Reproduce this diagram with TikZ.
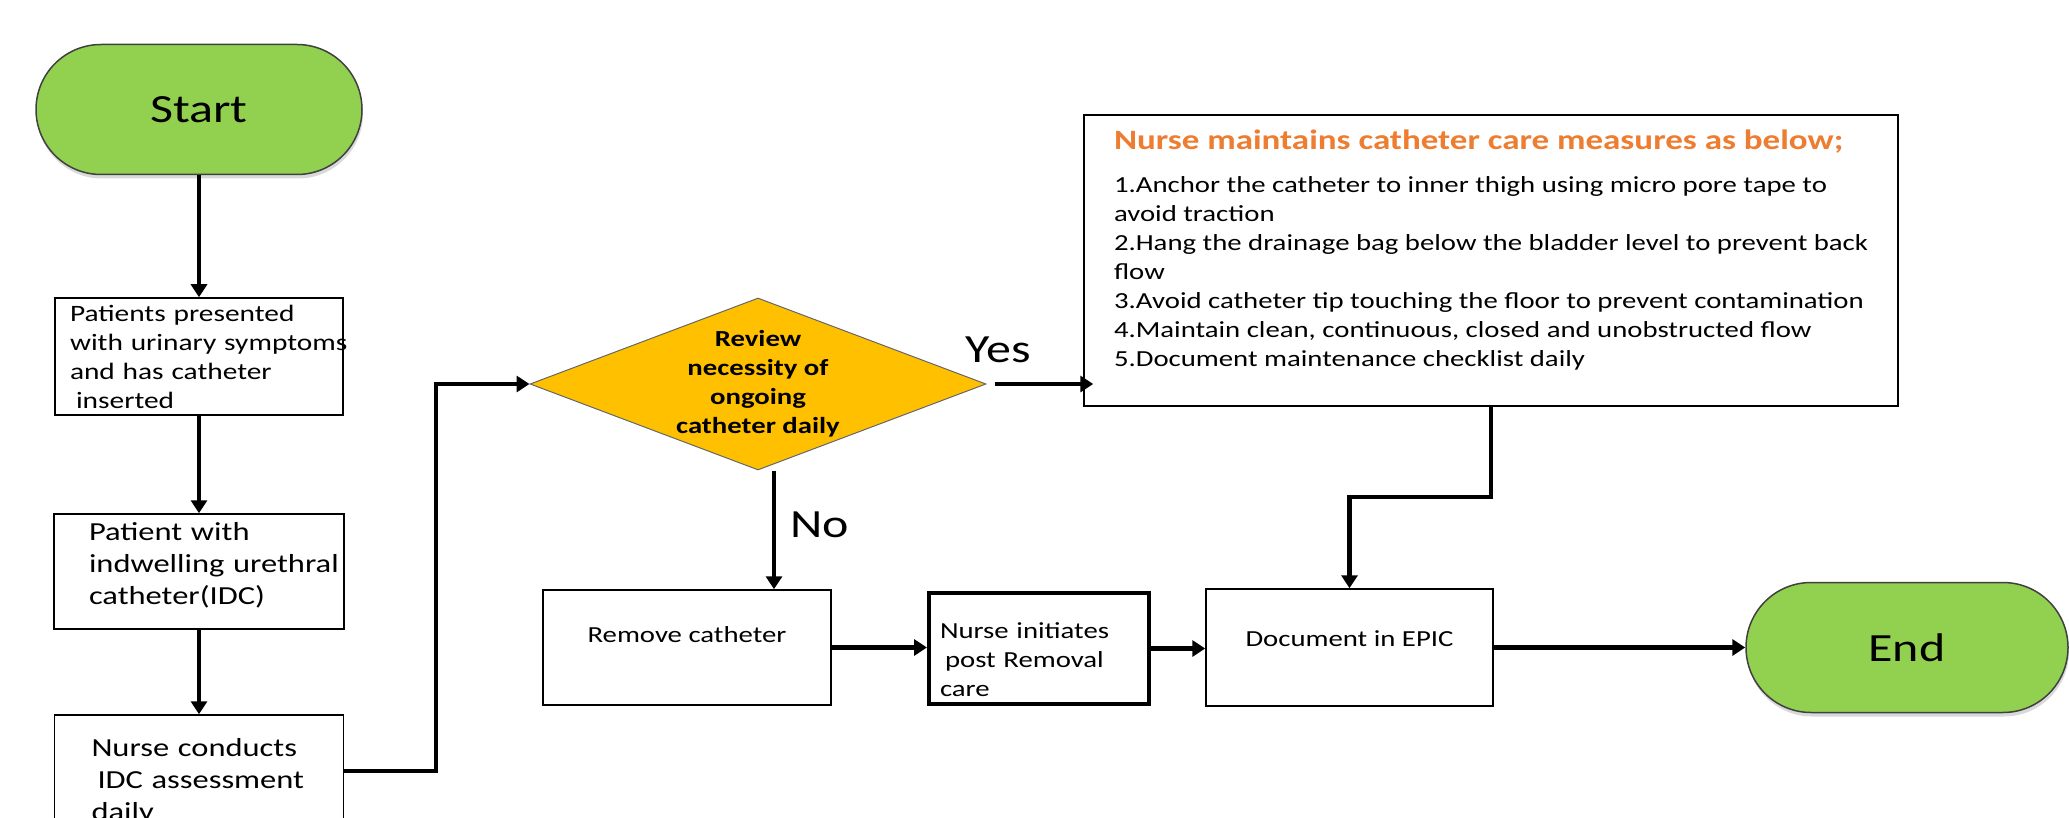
\documentclass[tikz,border=0pt]{standalone}
\usepackage{fontspec}
\setmainfont{Carlito}[FakeStretch=1.25]
\usepackage{xcolor}
\usetikzlibrary{shapes.geometric,arrows.meta,shadows}

\definecolor{pillgreen}{HTML}{92D050}
\definecolor{reviewgold}{HTML}{FFC000}
\definecolor{headorange}{HTML}{ED7D31}
\newcommand{\fsz}[2]{\fontsize{#1}{#2}\selectfont}
\newcommand{\upstrut}[1]{\rule{0pt}{#1}}
\newcommand{\dnstrut}[1]{\rule[-#1]{0pt}{#1}}

\tikzset{
	pill/.style={draw=black!75, line width=1.5pt, fill=pillgreen, rounded corners=65pt, minimum width=326pt, minimum height=130pt, inner sep=0pt, font=\fsz{40}{48}, drop shadow={shadow xshift=1pt, shadow yshift=-4pt, opacity=.3}},
	box/.style={draw, line width=1.5pt, fill=white, inner ysep=0pt, align=left, font=\fsz{23}{29}},
	decision/.style={diamond, aspect=2.65, draw=black!60, line width=1pt, fill=reviewgold, inner sep=0pt, minimum width=456pt, minimum height=172pt, align=center, font=\bfseries\fsz{23}{29}},
	answer/.style={font=\fsz{40}{48}, anchor=base, inner sep=0pt},
	arr/.style={line width=4.5pt, -{Triangle[length=13pt,width=16pt]}}
}

\begin{document}
\begin{tikzpicture}[x=1pt,y=-1pt]
	\useasboundingbox (0,0) rectangle (2069,818);
	\clip (0,0) rectangle (2069,818);

	\node[pill] (start) at (199,109.5) {Start};
	\node[box, minimum height=117pt, text width=258pt, inner xsep=15pt, font=\fsz{23.5}{29}] (pres) at (199,356.5) {Patients presented\\\mbox{with urinary symptoms}\\and has catheter\\\hspace*{6pt}inserted};
	\node[box, minimum height=115pt, text width=220pt, inner xsep=35pt, font=\fsz{26}{32}] (idc) at (199,571.5) {Patient with\\\mbox{indwelling urethral}\\catheter(IDC)\dnstrut{17pt}};
	\node[box, minimum height=112pt, text width=215pt, inner xsep=37pt, font=\fsz{26}{32}] (assess) at (199,771) {\upstrut{39pt}Nurse conducts\\\hspace*{6pt}IDC assessment\\daily};

	\node[decision] (review) at (758,384) {Review\\necessity of\\ongoing\\catheter daily};
	\node[answer] (yes) at (998,362) {Yes};
	\node[answer] (no) at (820,537) {No};

	\node[box, inner sep=0pt, minimum width=814pt, minimum height=291pt] (care) at (1491,260.5) {{\color{headorange}\bfseries\fsz{28}{34}Nurse maintains catheter care measures as below;}\\[14pt]1.Anchor the catheter to inner thigh using micro pore tape to\\avoid traction\\2.Hang the drainage bag below the bladder level to prevent back\\flow\\3.Avoid catheter tip touching the floor to prevent contamination\\4.Maintain clean, continuous, closed and unobstructed flow\\5.Document maintenance checklist daily\dnstrut{25pt}};

	\node[box, align=center, minimum width=288pt, minimum height=115pt] (remove) at (687,647.5) {Remove catheter\dnstrut{25pt}};
	\node[box, line width=4pt, minimum height=111pt, text width=198pt, inner xsep=11pt] (post) at (1039,648.5) {\upstrut{38pt}Nurse initiates\\\hspace*{5pt}post Removal\\care};
	\node[box, align=center, minimum width=287pt, minimum height=117pt] (epic) at (1349.5,647.5) {Document in EPIC\dnstrut{17pt}};
	\node[pill, minimum width=322pt] (stop) at (1907,647.5) {End};

	\coordinate (k1) at (436,771);
	\coordinate (k2) at (1491,497);

	\draw[arr] (start) -- (pres);
	\draw[arr] (pres) -- (idc);
	\draw[arr] (idc) -- (assess);
	\draw[arr] (assess.east) -- (k1) |- (review.west);
	\draw[arr] ([xshift=8pt]review.east) -- ([xshift=10pt]review.east -| care.west);
	\draw[arr] ([xshift=16pt]review.south) -- ([xshift=16pt]review.south |- remove.north);
	\draw[arr] (remove.east) -- (remove.east -| post.west);
	\draw[arr] (post.east) -- (post.east -| epic.west);
	\draw[arr] (epic.east) -- (epic.east -| stop.west);
	\draw[arr] (care.south -| k2) -- (k2) -| (epic.north);
\end{tikzpicture}
\end{document}
